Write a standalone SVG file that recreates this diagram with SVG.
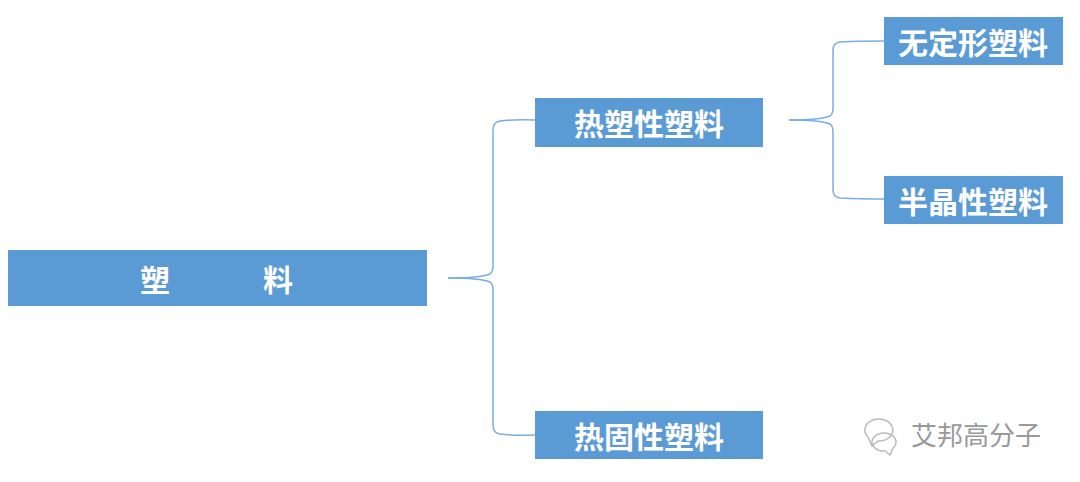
<svg xmlns="http://www.w3.org/2000/svg" width="1080" height="482" viewBox="0 0 1080 482">
<style>
.box{fill:#5b9bd5}
.t{fill:#fff;font-family:"Noto Sans CJK SC",sans-serif;font-weight:bold;font-size:30px;text-anchor:middle;dominant-baseline:central}
.c{fill:none;stroke:#7aaee0;stroke-width:1.5}
.wm{fill:none;stroke:#bbb;stroke-width:1.5}
</style>
<rect width="1080" height="482" fill="#fff"/>
<g id="connectors">
<path class="c" d="M448 278 Q480 278 490 274 Q493 272 493 266 L493 130 Q493 122 500 121 Q515 119 535 120"/>
<path class="c" d="M448 278 Q480 278 490 282 Q493 284 493 290 L493 425 Q493 433 500 434 Q515 436 535 435"/>
<path class="c" d="M789 120 Q820 120 830 116 Q833 114 833 108 L833 50 Q833 43 840 42 Q860 41 884 41"/>
<path class="c" d="M789 120 Q820 120 830 124 Q833 126 833 132 L833 190 Q833 197 840 198 Q860 199 884 199"/>
</g>
<g id="n0"><rect class="box" x="8" y="250" width="419" height="56"/><text class="t" x="155" y="278">塑</text><text class="t" x="278" y="278">料</text></g>
<g id="n1"><rect class="box" x="535" y="98" width="228" height="49"/><text class="t" x="649" y="122">热塑性塑料</text></g>
<g id="n2"><rect class="box" x="535" y="411" width="228" height="48"/><text class="t" x="649" y="435">热固性塑料</text></g>
<g id="n3"><rect class="box" x="884" y="17" width="179" height="48"/><text class="t" x="973" y="41">无定形塑料</text></g>
<g id="n4"><rect class="box" x="884" y="176" width="179" height="48"/><text class="t" x="973" y="200">半晶性塑料</text></g>
<g id="watermark">
<path class="wm" d="M868 437 a14 11 0 1 1 10 4 l-6 5 z"/>
<path class="wm" d="M893 448 a12 9 0 1 0 -8 3 l5 4 z"/>
<text x="911" y="445" font-family="'Noto Sans CJK SC',sans-serif" font-size="26" fill="#999">艾邦高分子</text>
</g>
</svg>
